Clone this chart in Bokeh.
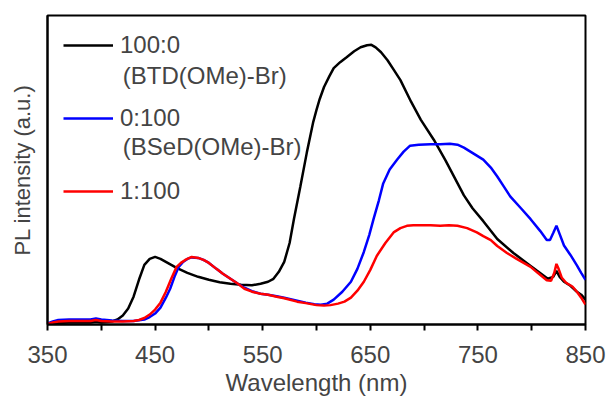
from bokeh.plotting import figure
from bokeh.models import Range1d, FixedTicker, Legend, LegendItem, Label
from bokeh.embed import file_html
from bokeh.resources import INLINE

# ---- data ----
black_x = [350, 360, 370, 380, 390, 395, 400, 410, 415, 420, 425, 430, 435, 440, 445, 450,
           455, 460, 465, 470, 480, 490, 500, 510, 520, 530, 540, 548, 555, 560, 565, 570,
           575, 579, 585, 591, 597, 600, 603, 607, 612, 616, 622, 628, 635, 641, 647, 651,
           655, 660, 666, 672, 678, 688, 697, 709, 720, 737, 745, 755, 768, 783, 799, 805,
           815, 820, 823, 826, 830, 836, 842, 846, 850]
black_y = [1, 1.5, 2, 2, 2, 3, 2, 3, 5, 9, 16, 28, 45, 60, 66, 68,
           66, 63, 60, 57, 52, 48, 45, 42.5, 41, 40, 39.5, 41, 43, 46, 53, 63,
           82, 106, 139, 173, 204, 216, 227, 239, 250, 258, 264, 269, 275, 279, 281, 281.5,
           279, 274, 266, 256, 246, 224, 206, 186, 165, 130, 117, 104, 86, 72, 59, 54,
           46, 48, 54, 48, 43, 39, 33, 30, 25]

blue_x = [350, 355, 360, 370, 380, 390, 395, 400, 410, 420, 430, 440, 445, 450, 455, 460,
          464, 468, 472, 476, 480, 484, 490, 495, 500, 507, 513, 520, 527, 533, 540, 548,
          555, 563, 570, 582, 590, 598, 604, 610, 616, 624, 632, 638, 644, 649, 653, 658,
          662, 668, 675, 681, 687, 695, 706, 715, 724, 731, 737, 746, 755, 762, 768, 774,
          780, 790, 799, 808, 814, 817, 820, 823, 826, 830, 836, 842, 846, 850]
blue_y = [1, 3, 4.5, 5, 5, 5, 6, 5, 4, 3.5, 3.5, 5, 7.5, 11, 17, 27,
          36, 48, 58, 63, 66, 67.5, 67, 65, 62, 56, 51, 46, 41, 37, 33.5, 31,
          30, 28.5, 27, 24, 22, 20.5, 20, 21, 25, 33, 43, 56, 73, 90, 106, 125,
          142, 156, 166, 174, 180, 181, 181.5, 181.5, 182, 181, 178, 172, 166, 158, 149, 139,
          129, 117, 106, 94, 85, 85, 92, 99.5, 91, 79.5, 70, 59.5, 52, 45]

red_x = [350, 355, 360, 370, 380, 390, 395, 400, 410, 420, 430, 435, 440, 445, 450, 455,
         460, 465, 470, 474, 478, 484, 490, 495, 500, 507, 513, 520, 527, 533, 540, 548,
         555, 563, 570, 582, 590, 600, 607, 613, 620, 626, 632, 638, 644, 650, 656, 664,
         672, 678, 684, 690, 697, 706, 715, 723, 731, 740, 749, 755, 762, 768, 777, 786,
         799, 805, 814, 818, 821, 823, 825, 828, 832, 838, 842, 846, 850]
red_y = [0.5, 2, 3, 3.5, 3.5, 3.5, 4.5, 3.5, 3, 3, 3.5, 4.5, 6.5, 10, 15, 22,
         33, 46, 58, 62, 65, 68, 67, 65, 62, 56, 51, 46, 41, 36, 33, 31,
         30, 28, 26.5, 23, 21.5, 19.5, 19, 19.5, 21, 23, 27, 34, 43, 55, 69, 82,
         93, 97, 99.3, 100, 100, 100, 99.5, 100, 99.3, 97, 92.7, 89, 85, 79, 72, 66,
         58, 52.5, 44.5, 44, 52, 61, 56, 47, 42, 38, 33, 27, 20]

series_names = ["100:0", "0:100", "1:100"]
series_sub = ["(BTD(OMe)-Br)", "(BSeD(OMe)-Br)", ""]
series_colors = ["black", "#0000ff", "#ff0000"]

x_major = [350, 450, 550, 650, 750, 850]
x_minor = [400, 500, 600, 700, 800]

FONT = "Liberation Sans"

p = figure(width=608, height=398, output_backend="svg", toolbar_location=None,
           x_range=Range1d(350, 850), y_range=Range1d(0, 311),
           min_border_left=47, min_border_right=23, min_border_top=15, min_border_bottom=72)
p.background_fill_color = "white"
p.border_fill_color = "white"
p.grid.visible = False
p.outline_line_color = "black"
p.outline_line_width = 2

LW = 2.5
r_black = p.line(black_x, black_y, line_color=series_colors[0], line_width=LW)
r_blue = p.line(blue_x, blue_y, line_color=series_colors[1], line_width=LW)
r_red = p.line(red_x, red_y, line_color=series_colors[2], line_width=LW)

# x axis
xa = p.xaxis[0]
xa.ticker = FixedTicker(ticks=x_major, minor_ticks=x_minor)
xa.axis_line_width = 2
xa.major_tick_line_width = 2
xa.minor_tick_line_width = 2
xa.major_tick_in = 0
xa.major_tick_out = 6
xa.minor_tick_in = 0
xa.minor_tick_out = 6
xa.major_label_text_font = FONT
xa.major_label_text_font_size = "24px"
xa.major_label_standoff = 15
xa.axis_label = "Wavelength (nm)"
xa.axis_label_text_font = FONT
xa.axis_label_text_font_size = "24px"
xa.axis_label_text_font_style = "normal"
xa.axis_label_standoff = 3

# y axis (no ticks)
ya = p.yaxis[0]
ya.ticker = FixedTicker(ticks=[])
ya.axis_line_width = 2
ya.major_tick_line_color = None
ya.minor_tick_line_color = None
ya.major_label_text_color = None
ya.axis_label = "PL intensity (a.u.)"
ya.axis_label_text_font = FONT
ya.axis_label_text_font_size = "22px"
ya.axis_label_text_font_style = "normal"
ya.axis_label_standoff = 13

legend = Legend(items=[LegendItem(label=series_names[0], renderers=[r_black]),
                       LegendItem(label=series_names[1], renderers=[r_blue]),
                       LegendItem(label=series_names[2], renderers=[r_red])],
                location="top_left", margin=16, padding=3, spacing=45,
                glyph_width=50, glyph_height=24, label_height=24, label_standoff=7,
                label_text_font=FONT, label_text_font_size="24px",
                border_line_color=None, background_fill_alpha=0)
p.add_layout(legend)

sub_x = 420
for sub, yy in zip(series_sub[:2], [251, 179]):
    p.add_layout(Label(x=sub_x, y=yy, text=sub, text_font=FONT, text_font_size="24px",
                       text_baseline="middle", text_align="left"))

open("out.html", "w").write(file_html(p, INLINE))
